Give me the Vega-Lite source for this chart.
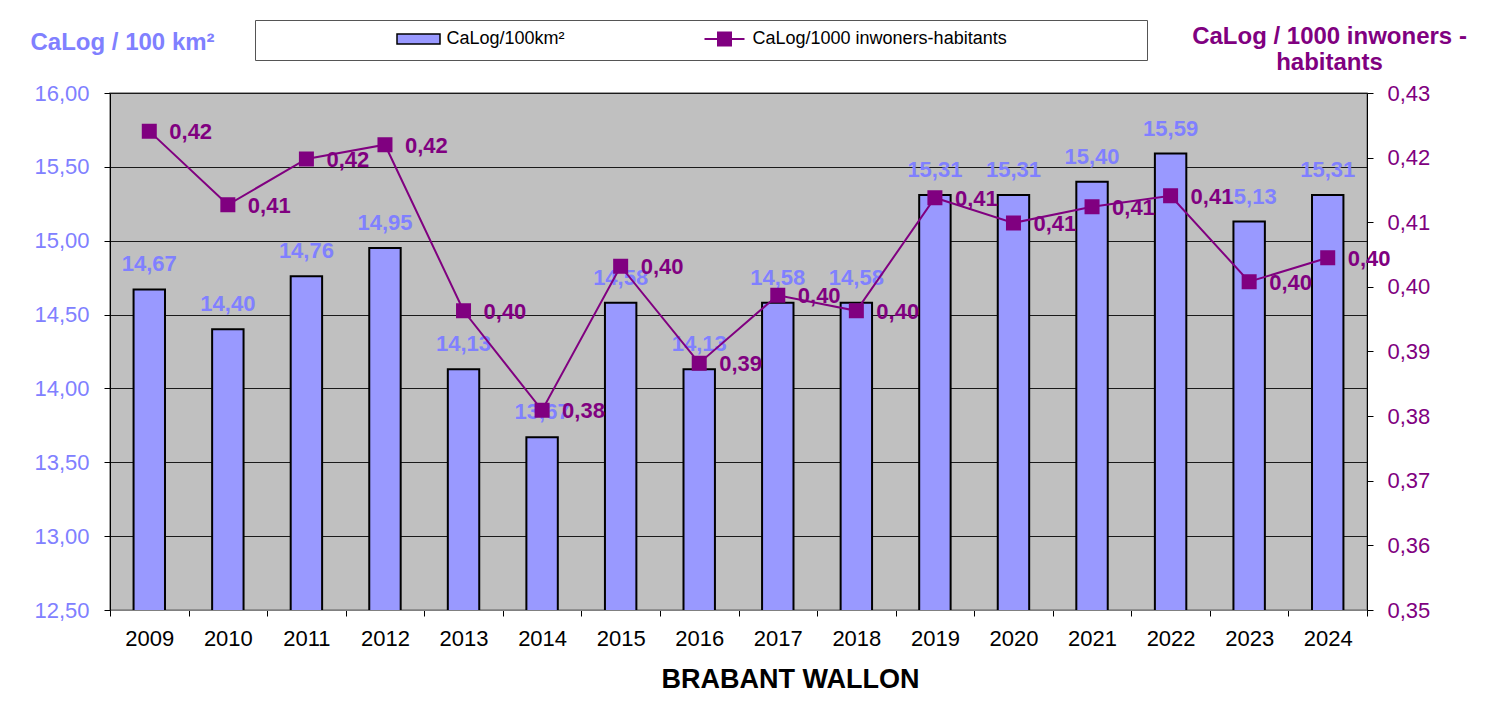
{
  "$schema": "https://vega.github.io/schema/vega-lite/v6.json",
  "width": 1257,
  "height": 517,
  "autosize": {"type": "none"},
  "padding": {"left": 110, "top": 93, "right": 139, "bottom": 97},
  "background": "white",
  "config": {
    "locale": {"number": {"decimal": ",", "thousands": ".", "grouping": [3], "currency": ["", " €"]}},
    "font": "Liberation Sans",
    "view": {"fill": "#C0C0C0", "stroke": "#808080", "strokeWidth": 1.5},
    "axis": {"labelFont": "Liberation Sans", "titleFont": "Liberation Sans"},
    "legend": {
      "direction": "horizontal",
      "titleFontSize": 18,
      "padding": 10,
      "labelFontSize": 18,
      "labelFont": "Liberation Sans",
      "labelColor": "black",
      "labelLimit": 900,
      "symbolSize": 100,
      "symbolOffset": 15.5,
      "labelOffset": 19
    }
  },
  "data": {
    "values": [
      {"year": "2009", "km": 14.67, "inw": 0.4241},
      {"year": "2010", "km": 14.40, "inw": 0.4127},
      {"year": "2011", "km": 14.76, "inw": 0.4198},
      {"year": "2012", "km": 14.95, "inw": 0.4220},
      {"year": "2013", "km": 14.13, "inw": 0.3963},
      {"year": "2014", "km": 13.67, "inw": 0.3809},
      {"year": "2015", "km": 14.58, "inw": 0.4032},
      {"year": "2016", "km": 14.13, "inw": 0.3882},
      {"year": "2017", "km": 14.58, "inw": 0.3987},
      {"year": "2018", "km": 14.58, "inw": 0.3963},
      {"year": "2019", "km": 15.31, "inw": 0.4138},
      {"year": "2020", "km": 15.31, "inw": 0.4099},
      {"year": "2021", "km": 15.40, "inw": 0.4124},
      {"year": "2022", "km": 15.59, "inw": 0.4141},
      {"year": "2023", "km": 15.13, "inw": 0.4008},
      {"year": "2024", "km": 15.31, "inw": 0.4045}
    ]
  },
  "encoding": {
    "x": {
      "field": "year",
      "type": "ordinal",
      "scale": {"paddingInner": 0, "paddingOuter": 0},
      "axis": {
        "title": "BRABANT WALLON",
        "titleFontSize": 27,
        "titleFontWeight": "bold",
        "titleColor": "black",
        "titleX": 680,
        "titleY": 77,
        "titleAlign": "center",
        "titleBaseline": "alphabetic",
        "labelAngle": 0,
        "labelFontSize": 22,
        "labelColor": "black",
        "labelPadding": 12,
        "tickBand": "extent",
        "tickSize": 6,
        "tickColor": "black",
        "domainColor": "#808080",
        "grid": false
      }
    }
  },
  "layer": [
    {
      "encoding": {
        "y": {
          "field": "km",
          "type": "quantitative",
          "scale": {"domain": [12.5, 16], "zero": false, "nice": false},
          "axis": {
            "title": "CaLog / 100 km²",
            "titleAngle": 0,
            "titleAlign": "left",
            "titleBaseline": "alphabetic",
            "titleX": -80,
            "titleY": -44,
            "titleFontSize": 24,
            "titleFontWeight": "bold",
            "titleColor": "#8080FF",
            "values": [12.5, 13, 13.5, 14, 14.5, 15, 15.5, 16],
            "format": ".2f",
            "labelFontSize": 22,
            "labelColor": "#8080FF",
            "labelPadding": 15,
            "tickSize": 6,
            "tickColor": "black",
            "domainColor": "black",
            "grid": true,
            "gridColor": "#1a1a1a",
            "gridWidth": 1
          }
        }
      },
      "layer": [
        {
          "mark": {"type": "bar", "stroke": "black", "strokeWidth": 2, "width": {"band": 0.4}, "clip": true},
          "encoding": {
            "fill": {
              "datum": "CaLog/100km²",
              "scale": {"domain": ["CaLog/100km²"], "range": ["#9999FF"]},
              "legend": {
                "orient": "none",
                "legendX": 274,
                "legendY": -73,
                "title": null,
                "symbolType": "M-4.3,-1h8.6v2h-8.6z",
                "encode": {
                  "symbols": {
                    "update": {
                      "shape": {"signal": "'M-4.3,-1h8.6v2h-8.6z'"},
                      "stroke": {"value": "black"},
                      "strokeWidth": {"value": 2},
                      "size": {"value": 100},
                      "opacity": {"value": 1},
                      "fillOpacity": {"value": 1}
                    }
                  }
                }
              }
            }
          }
        },
        {
          "mark": {"type": "text", "dy": -18, "baseline": "alphabetic", "fontSize": 22, "fontWeight": "bold", "fill": "#8080FF", "font": "Liberation Sans"},
          "encoding": {
            "text": {"field": "km", "type": "quantitative", "format": ".2f"}
          }
        }
      ]
    },
    {
      "encoding": {
        "y": {
          "field": "inw",
          "type": "quantitative",
          "scale": {"domain": [0.35, 0.43], "zero": false, "nice": false},
          "axis": {
            "orient": "right",
            "title": ["CaLog / 1000 inwoners -", "habitants"],
            "titleAngle": 0,
            "titleAlign": "center",
            "titleBaseline": "alphabetic",
            "titleX": -38,
            "titleY": -50,
            "titleFontSize": 24,
            "titleFontWeight": "bold",
            "titleColor": "#800080",
            "titleLineHeight": 26,
            "values": [0.35, 0.36, 0.37, 0.38, 0.39, 0.40, 0.41, 0.42, 0.43],
            "format": ".2f",
            "labelFontSize": 22,
            "labelColor": "#800080",
            "labelPadding": 14,
            "tickSize": 6,
            "tickColor": "black",
            "domainColor": "black",
            "grid": false
          }
        }
      },
      "layer": [
        {
          "mark": {"type": "line", "strokeWidth": 2, "color": "#800080", "point": {"shape": "square", "size": 169, "filled": true, "fill": "#800080", "opacity": 1}},
          "encoding": {
            "stroke": {
              "datum": "CaLog/1000 inwoners-habitants",
              "scale": {"domain": ["CaLog/1000 inwoners-habitants"], "range": ["#800080"]},
              "legend": {
                "orient": "none",
                "legendX": 145,
                "legendY": -73,
                "title": "\u200b",
                "titleOrient": "left",
                "titlePadding": 435,
                "strokeColor": "#555555",
                "labelExpr": "datum.label + '\u00a0\u00a0\u00a0\u00a0\u00a0\u00a0\u00a0\u00a0\u00a0\u00a0\u00a0\u00a0\u00a0\u00a0\u00a0\u00a0\u00a0\u00a0\u00a0\u00a0\u00a0\u00a0\u00a0\u00a0\u00a0\u00a0\u200b'",
                "encode": {
                  "symbols": {
                    "update": {
                      "shape": {"value": "M-4,0h8M-1.3,-1.3h2.6v2.6h-2.6z"},
                      "fill": {"value": "#800080"},
                      "strokeWidth": {"value": 2},
                      "size": {"value": 100},
                      "opacity": {"value": 1},
                      "fillOpacity": {"value": 1}
                    }
                  }
                }
              }
            }
          }
        },
        {
          "mark": {"type": "text", "align": "left", "dx": 20, "dy": 8, "baseline": "alphabetic", "fontSize": 22, "fontWeight": "bold", "fill": "#800080", "font": "Liberation Sans"},
          "encoding": {
            "text": {"field": "inw", "type": "quantitative", "format": ".2f"}
          }
        }
      ]
    }
  ],
  "resolve": {"scale": {"y": "independent"}}
}
